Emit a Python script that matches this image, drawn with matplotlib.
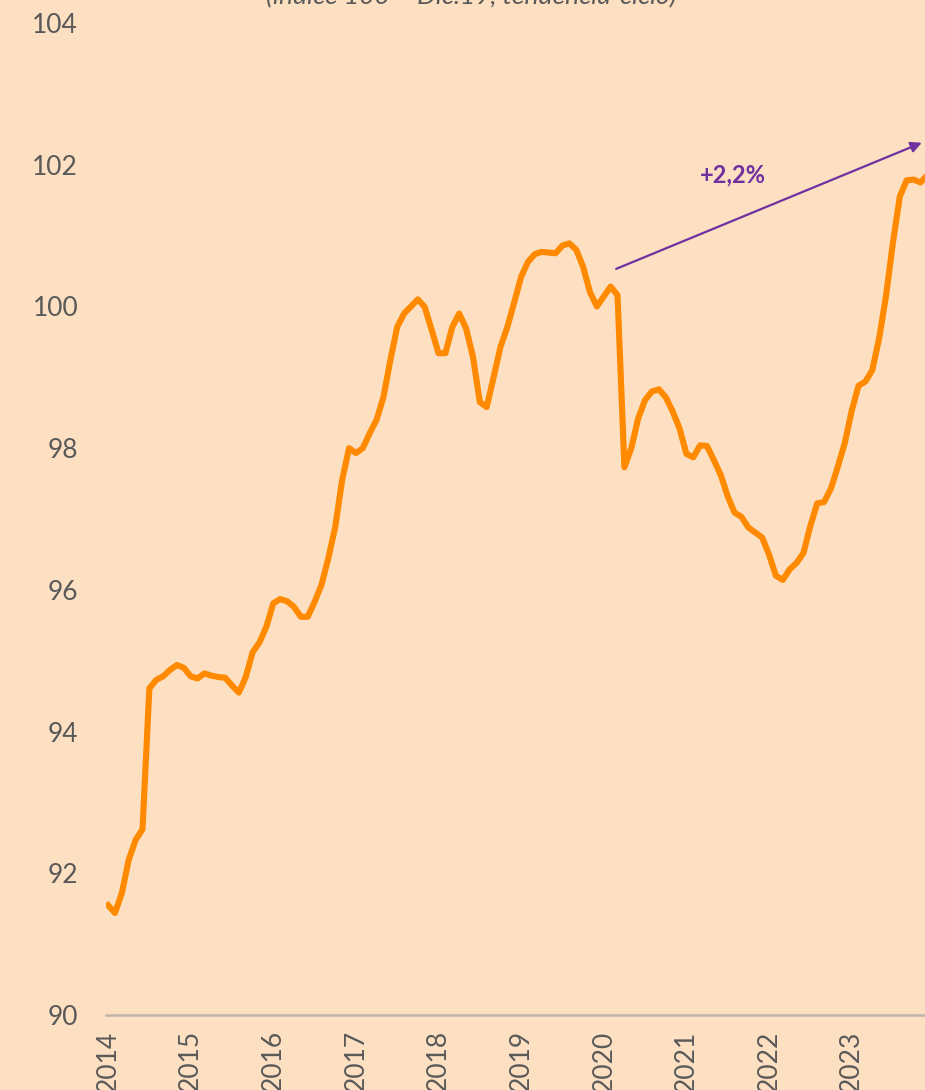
import numpy as np
import matplotlib
matplotlib.use('Agg')
import matplotlib.pyplot as plt

plt.rcParams['font.family'] = ['Lato', 'DejaVu Sans']

# índice mensual, ene-2014 .. dic-2023
years = ['2014', '2015', '2016', '2017', '2018', '2019', '2020', '2021', '2022', '2023']
valores = [91.55, 91.44, 91.72, 92.19, 92.47, 92.62, 94.61, 94.73, 94.78, 94.87, 94.94, 94.90,
           94.78, 94.75, 94.82, 94.79, 94.77, 94.76, 94.65, 94.55, 94.77, 95.12, 95.26, 95.48,
           95.81, 95.87, 95.84, 95.76, 95.62, 95.62, 95.83, 96.07, 96.45, 96.89, 97.55, 98.00,
           97.93, 98.00, 98.21, 98.40, 98.72, 99.24, 99.71, 99.90, 100.00, 100.10, 99.99, 99.67,
           99.34, 99.34, 99.71, 99.90, 99.69, 99.29, 98.65, 98.58, 99.00, 99.43, 99.71, 100.06,
           100.42, 100.63, 100.74, 100.77, 100.76, 100.75, 100.86, 100.89, 100.80, 100.56, 100.20, 100.00,
           100.14, 100.28, 100.16, 97.73, 98.00, 98.42, 98.68, 98.80, 98.83, 98.72, 98.52, 98.28,
           97.92, 97.87, 98.04, 98.03, 97.83, 97.62, 97.32, 97.09, 97.03, 96.88, 96.81, 96.74,
           96.50, 96.20, 96.14, 96.29, 96.38, 96.52, 96.90, 97.22, 97.24, 97.43, 97.74, 98.07,
           98.52, 98.88, 98.94, 99.10, 99.55, 100.15, 100.90, 101.55, 101.78, 101.79, 101.75, 101.85]

# flecha de variación
flecha_ini = (73.8, 100.53)
flecha_fin = (118.2, 102.31)
etiqueta = '+2,2%'

fondo = '#FDDFC2'
naranja = '#FF8A00'
morado = '#7030A0'
gris = '#595959'

fig = plt.figure(figsize=(9.25, 10.9), dpi=100, facecolor=fondo)
ax = fig.add_axes([106 / 925, 75 / 1090, 819 / 925, 992 / 1090])
ax.set_facecolor(fondo)

meses = np.arange(len(valores))
ax.plot(meses, valores, color=naranja, lw=4.4, solid_joinstyle='round')

ax.set_xlim(-0.3, 118.66)
ax.set_ylim(90, 104)

ax.set_yticks(np.arange(90, 105, 2))
ax.set_xticks(np.arange(0, 12 * len(years), 12))
ax.set_xticklabels(years, rotation=90, va='top')
ax.tick_params(axis='y', length=0, pad=20, labelsize=19, labelcolor=gris)
ax.tick_params(axis='x', length=0, pad=11, labelsize=19, labelcolor=gris)

for s in ['top', 'right', 'left']:
    ax.spines[s].set_visible(False)
ax.spines['bottom'].set_color('#BFB5AB')
ax.spines['bottom'].set_linewidth(1.8)

# flecha y texto
ax.annotate('', xy=flecha_fin, xytext=flecha_ini,
            arrowprops=dict(arrowstyle='-|>', color=morado, lw=1.6, mutation_scale=16,
                            shrinkA=0, shrinkB=0), annotation_clip=False)
ax.text(90.8, 101.85, etiqueta, color=morado, fontsize=17, fontweight='bold',
        ha='center', va='center')

# subtítulo (cortado arriba)
fig.text(0.51, 1086 / 1090, '(índice 100 = Dic.19, tendencia-ciclo)', color=gris,
         fontsize=19, style='italic', ha='center', va='baseline')

fig.savefig('out.png', dpi=100, facecolor=fondo)
